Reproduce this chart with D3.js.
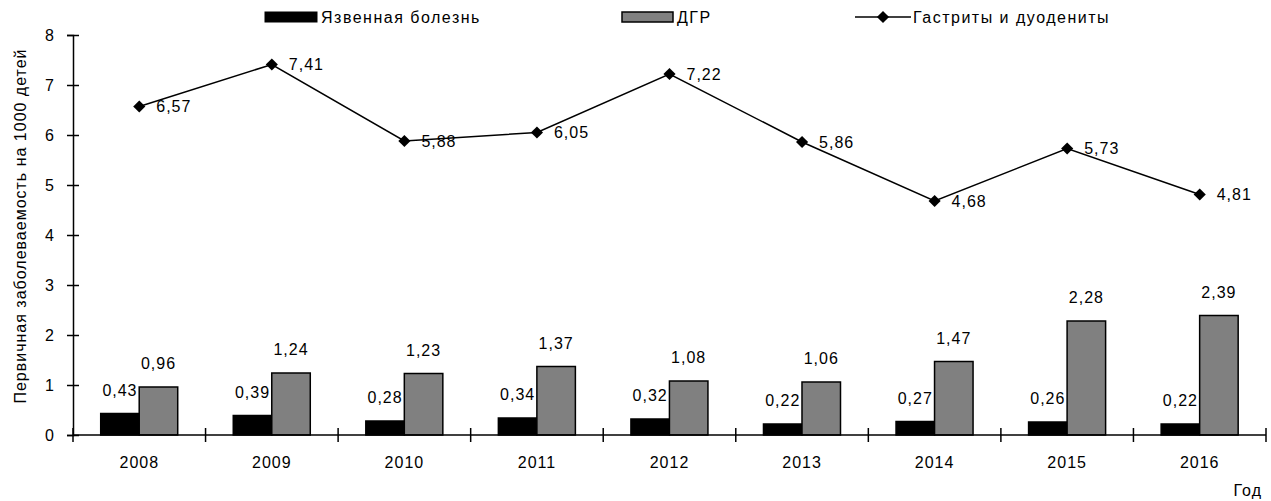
<!DOCTYPE html>
<html>
<head>
<meta charset="utf-8">
<script src="https://cdn.jsdelivr.net/npm/d3@7"></script>
<style>
  html, body { margin: 0; padding: 0; background: #fff; }
  svg { display: block; font-family: "Liberation Sans", Arial, sans-serif; }
  text { fill: #000; }
</style>
</head>
<body>
<svg id="chart" width="1271" height="501"></svg>
<script>
// Годы наблюдения
const years = ["2008", "2009", "2010", "2011", "2012", "2013", "2014", "2015", "2016"];
// Язвенная болезнь
const ulcer = [0.43, 0.39, 0.28, 0.34, 0.32, 0.22, 0.27, 0.26, 0.22];
// ДГР
const dgr = [0.96, 1.24, 1.23, 1.37, 1.08, 1.06, 1.47, 2.28, 2.39];
// Гастриты и дуодениты
const gastritis = [6.57, 7.41, 5.88, 6.05, 7.22, 5.86, 4.68, 5.73, 4.81];
const yTicks = [0, 1, 2, 3, 4, 5, 6, 7, 8];

const fmt = v => v.toFixed(2).replace(".", ",");
const LS = 1;       // межбуквенный интервал подписей
const LS_LEG = 1.5; // межбуквенный интервал легенды

const svg = d3.select("#chart");
const plotLeft = 73, plotRight = 1266, plotTop = 35, plotBottom = 435;

const x = d3.scaleBand().domain(years).range([plotLeft, plotRight]).padding(0);
const y = d3.scaleLinear().domain([0, 8]).range([plotBottom, plotTop]);
const bw = x.bandwidth();
const xs = d3.scaleBand().domain(["ulcer", "dgr"]).range([bw * 0.209, bw * 0.79]).padding(0);

const barSeries = [
  { key: "ulcer", values: ulcer, fill: "#000000" },
  { key: "dgr", values: dgr, fill: "#808080" }
];

// Столбцы
barSeries.forEach(s => {
  const g = svg.append("g");
  g.selectAll("rect").data(years).join("rect")
    .attr("x", (d) => x(d) + xs(s.key))
    .attr("y", (d, i) => y(s.values[i]))
    .attr("width", xs.bandwidth())
    .attr("height", (d, i) => y(0) - y(s.values[i]))
    .attr("fill", s.fill)
    .attr("stroke", "#000")
    .attr("stroke-width", 1.5);
  g.selectAll("text").data(years).join("text")
    .attr("x", (d) => x(d) + xs(s.key) + xs.bandwidth() / 2)
    .attr("y", (d, i) => y(s.values[i]) - 18)
    .attr("text-anchor", "middle")
    .attr("font-size", 16)
    .attr("letter-spacing", LS)
    .text((d, i) => fmt(s.values[i]));
});

// Оси
const yAxis = svg.append("g")
  .attr("transform", `translate(${plotLeft},0)`)
  .call(d3.axisLeft(y).tickValues(yTicks).tickSize(6).tickPadding(12).tickFormat(d3.format("d")));
yAxis.selectAll(".tick line").attr("x1", 6).attr("x2", -6);

const xAxis = svg.append("g")
  .attr("transform", `translate(0,${plotBottom})`)
  .call(d3.axisBottom(x).tickSize(0).tickPadding(22));
xAxis.select(".domain").attr("d", `M${plotLeft},0H${plotRight}`);

// Деления между категориями
svg.append("g").selectAll("line")
  .data(years.concat(["__end"]))
  .join("line")
  .attr("x1", (d, i) => i < years.length ? x(d) : plotRight)
  .attr("x2", (d, i) => i < years.length ? x(d) : plotRight)
  .attr("y1", plotBottom - 7).attr("y2", plotBottom + 7)
  .attr("stroke", "#000").attr("stroke-width", 1.5);

[yAxis, xAxis].forEach(a => {
  a.selectAll(".domain").attr("stroke", "#000").attr("stroke-width", 1.5);
  a.selectAll(".tick line").attr("stroke", "#000").attr("stroke-width", 1.5);
  a.selectAll("text").attr("font-size", 16).attr("font-family", "Liberation Sans, Arial, sans-serif")
    .attr("fill", "#000").attr("letter-spacing", LS);
});

// Линия гастритов
const cx = (d) => x(d) + bw / 2;
const line = d3.line().x((d, i) => cx(years[i])).y(d => y(d));
svg.append("path")
  .datum(gastritis)
  .attr("d", line)
  .attr("fill", "none")
  .attr("stroke", "#000")
  .attr("stroke-width", 1.5);

const diamond = d3.symbol().type(d3.symbolDiamond2).size(94);
svg.append("g").selectAll("path")
  .data(gastritis).join("path")
  .attr("transform", (d, i) => `translate(${cx(years[i])},${y(d)})`)
  .attr("d", diamond)
  .attr("fill", "#000");

svg.append("g").selectAll("text")
  .data(gastritis).join("text")
  .attr("x", (d, i) => cx(years[i]) + 17)
  .attr("y", d => y(d) + 5.5)
  .attr("font-size", 16)
  .attr("letter-spacing", LS)
  .text(d => fmt(d));

// Подписи осей
svg.append("text")
  .attr("transform", "translate(26,226) rotate(-90)")
  .attr("text-anchor", "middle")
  .attr("font-size", 16)
  .attr("letter-spacing", LS)
  .text("Первичная заболеваемость на 1000 детей");

svg.append("text")
  .attr("x", 1262).attr("y", 496)
  .attr("text-anchor", "end")
  .attr("font-size", 16)
  .attr("letter-spacing", LS)
  .text("Год");

// Легенда
const legend = svg.append("g");
legend.append("rect").attr("x", 265).attr("y", 12).attr("width", 52).attr("height", 10)
  .attr("fill", "#000").attr("stroke", "#000").attr("stroke-width", 1);
legend.append("text").attr("x", 321).attr("y", 23).attr("font-size", 16).attr("letter-spacing", LS_LEG)
  .text("Язвенная болезнь");

legend.append("rect").attr("x", 622).attr("y", 12).attr("width", 51).attr("height", 10)
  .attr("fill", "#808080").attr("stroke", "#000").attr("stroke-width", 1.5);
legend.append("text").attr("x", 677).attr("y", 23).attr("font-size", 16).attr("letter-spacing", LS_LEG)
  .text("ДГР");

legend.append("line").attr("x1", 855).attr("x2", 911).attr("y1", 17).attr("y2", 17)
  .attr("stroke", "#000").attr("stroke-width", 1.5);
legend.append("path").attr("transform", "translate(883,17)").attr("d", diamond).attr("fill", "#000");
legend.append("text").attr("x", 913).attr("y", 23).attr("font-size", 16).attr("letter-spacing", LS_LEG)
  .text("Гастриты и дуодениты");
</script>
</body>
</html>
